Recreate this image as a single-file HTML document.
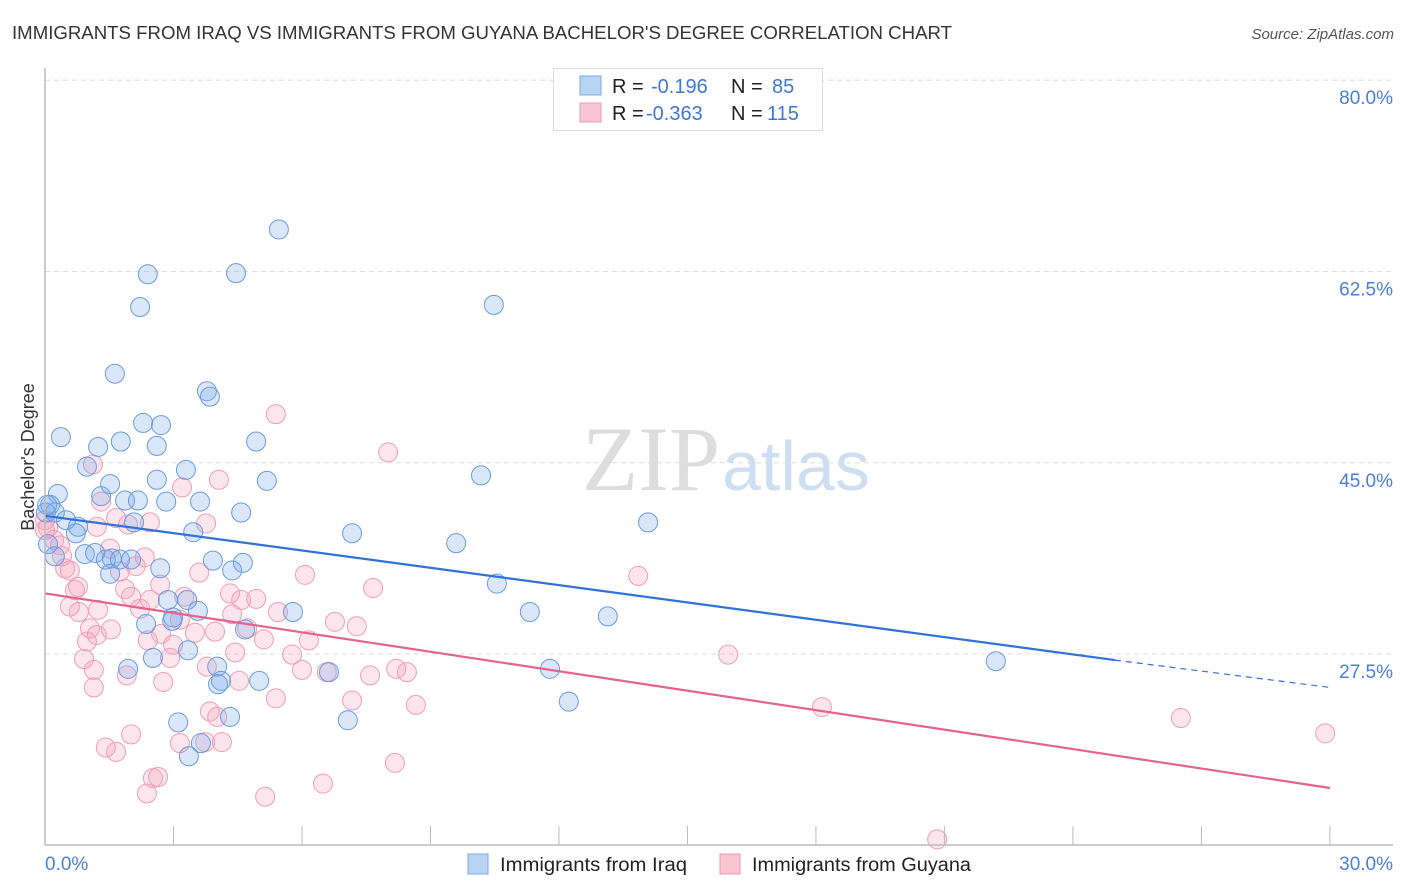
<!DOCTYPE html>
<html><head><meta charset="utf-8"><style>
body{margin:0;background:#fff;font-family:"Liberation Sans",sans-serif}
svg{display:block}
</style></head><body>
<svg id="chart" width="1406" height="892">
<text x="12" y="39" font-size="18" fill="#333" textLength="940" lengthAdjust="spacingAndGlyphs">IMMIGRANTS FROM IRAQ VS IMMIGRANTS FROM GUYANA BACHELOR'S DEGREE CORRELATION CHART</text>
<text x="1394" y="39" font-size="15" fill="#555" font-style="italic" text-anchor="end">Source: ZipAtlas.com</text>
<g id="grid"></g>
<text x="720" y="490" font-size="92" font-family="Liberation Serif" fill="#ddd" text-anchor="end">ZIP</text>
<text x="722" y="490" font-size="70" fill="#cfdff2">atlas</text>
<g id="pts"></g>
<g id="trends"></g>
<line x1="45" y1="68" x2="45" y2="845" stroke="#bbb" stroke-width="1.5"/>
<line x1="45" y1="845" x2="1393" y2="845" stroke="#bbb" stroke-width="1.5"/>
<g id="xticks"></g>
<text x="45" y="870" font-size="19" fill="#4a7fd4">0.0%</text>
<text x="1393" y="870" font-size="19" fill="#4a7fd4" text-anchor="end">30.0%</text>
<text transform="translate(34,457) rotate(-90)" font-size="18" fill="#333" text-anchor="middle">Bachelor's Degree</text>
<g>
<rect x="553.5" y="68.5" width="269" height="62" fill="#fff" stroke="#ddd"/>
<rect x="580" y="76" width="21" height="19" fill="#b9d3f5" stroke="#7fa8e0"/>
<rect x="580" y="103" width="21" height="19" fill="#f9c5d4" stroke="#eb9ab3"/>
<text y="93" font-size="20"><tspan x="612" fill="#222">R = </tspan><tspan x="651" fill="#3f78d4">-0.196</tspan><tspan x="731" fill="#222">N = </tspan><tspan x="772" fill="#3f78d4">85</tspan></text>
<text y="120" font-size="20"><tspan x="612" fill="#222">R = </tspan><tspan x="646" fill="#3f78d4">-0.363</tspan><tspan x="731" fill="#222">N = </tspan><tspan x="767" fill="#3f78d4">115</tspan></text>
</g>
<g>
<rect x="468" y="854" width="20" height="20" fill="#b9d3f5" stroke="#7fa8e0"/>
<text x="500" y="871" font-size="19" fill="#222" textLength="187" lengthAdjust="spacingAndGlyphs">Immigrants from Iraq</text>
<rect x="720" y="854" width="20" height="20" fill="#f9c5d4" stroke="#eb9ab3"/>
<text x="752" y="871" font-size="19" fill="#222" textLength="219" lengthAdjust="spacingAndGlyphs">Immigrants from Guyana</text>
</g>
</svg>
<script>
const yTicks=[80,62.5,45,27.5];
const yTickLabels=["80.0%","62.5%","45.0%","27.5%"];
const xTicks=[0,3,6,9,12,15,18,21,24,27,30];
const iraqX=[5.46,2.40,4.46,2.22,10.48,1.63,3.78,3.85,2.29,2.71,0.37,4.93,1.24,1.77,2.61,0.98,3.29,2.61,5.18,10.18,1.52,1.31,0.30,1.87,2.17,2.83,3.62,0.12,0.23,4.58,14.08,0.49,2.08,0.77,7.17,3.46,0.72,9.60,0.07,0.93,1.17,0.23,1.56,1.42,1.75,2.01,3.92,4.62,4.37,1.52,2.69,10.55,2.87,3.32,5.79,11.32,3.57,13.14,2.99,2.36,2.97,4.67,2.52,3.34,4.02,6.63,11.79,22.20,1.94,4.11,5.00,12.23,4.04,3.11,7.07,4.32,3.36,3.64,0.02,0.05];
const iraqY=[67.9,63.8,63.9,60.8,61.0,54.7,53.1,52.6,50.2,50.0,48.9,48.5,48.0,48.5,48.1,46.2,45.9,45.0,44.9,45.4,44.6,43.5,43.7,43.1,43.1,43.0,43.0,42.7,42.0,42.0,41.1,41.3,41.1,40.7,40.1,40.2,40.1,39.2,39.1,38.2,38.3,38.0,37.8,37.7,37.7,37.7,37.6,37.4,36.7,36.4,36.9,35.5,34.0,34.0,32.9,32.9,33.0,32.5,32.4,31.8,32.1,31.3,28.7,29.4,27.9,27.4,27.7,28.4,27.7,26.6,26.6,24.7,26.3,22.8,23.0,23.3,19.7,20.9,42.0,42.7];
const guyX=[5.39,8.01,1.12,4.06,3.20,1.31,1.66,3.76,2.45,0.0,0.07,0.21,0.35,1.21,1.94,1.52,2.33,0.47,0.58,0.77,0.70,1.75,2.12,2.69,6.07,7.66,13.85,1.87,0.58,0.79,1.24,2.01,2.22,3.25,4.32,4.58,4.93,3.60,1.05,0.98,1.21,2.40,0.91,2.92,2.71,4.72,4.44,2.99,3.50,5.11,5.77,6.16,6.77,7.28,6.00,6.58,7.59,8.20,8.45,15.95,1.14,1.14,2.76,3.78,4.53,1.91,7.17,5.39,8.66,3.85,4.02,18.14,26.52,29.89,1.42,1.66,2.01,3.15,4.13,3.74,2.52,2.64,2.38,5.14,6.49,8.17,20.83,0.0,0.40,4.37,3.97,1.54,2.45,3.15,5.44];
const guyY=[51.0,47.5,46.4,45.0,44.3,43.0,41.5,41.0,41.1,41.3,40.6,39.5,39.0,40.7,40.9,38.7,37.9,36.9,36.7,35.2,34.9,36.6,37.1,35.4,36.3,35.1,36.2,35.0,33.4,32.9,33.1,34.3,33.2,34.3,34.6,34.0,34.1,36.5,31.4,30.2,30.8,30.3,28.6,28.7,30.9,31.4,29.2,29.9,31.0,30.4,29.0,30.3,32.0,31.6,27.6,27.4,27.1,27.7,27.4,29.0,27.6,26.0,26.5,27.9,26.6,27.1,24.8,25.0,24.4,23.8,23.3,24.2,23.2,21.8,20.5,20.1,21.7,20.9,21.0,21.0,17.7,17.8,16.3,16.0,17.2,19.1,12.1,40.4,38.0,32.7,31.1,31.3,34.0,32.2,32.9];
const iraqTrend=[[0,41.7],[24.98,28.5],[30,26.0]];
const guyTrend=[[0,34.6],[30,16.8]];
const NS="http://www.w3.org/2000/svg";
const xs=v=>45+v*42.83;
const ys=v=>971.6-v*10.93;
function mk(tag,attrs,parent){const e=document.createElementNS(NS,tag);for(const k in attrs)e.setAttribute(k,attrs[k]);parent.appendChild(e);return e;}
const grid=document.getElementById('grid');
yTicks.forEach((t,i)=>{
  const l=mk('line',{x1:45,x2:1393,y1:ys(t)-17,y2:ys(t)-17,stroke:'#ddd','stroke-dasharray':'5,4'},grid);
  
  
  const tx=mk('text',{x:1393,y:ys(t)+7,'font-size':19,fill:'#4a7fd4','text-anchor':'end'},grid);
  tx.textContent=yTickLabels[i];
  
  
});
const xt=document.getElementById('xticks');
xTicks.forEach(t=>{
  const l=mk('line',{x1:xs(t),x2:xs(t),y1:826,y2:845,stroke:'#bbb'},xt);
  
  
});
const pts=document.getElementById('pts');
guyX.forEach((x,i)=>{
  const c=mk('circle',{cx:xs(x),cy:ys(guyY[i]),r:9.5,fill:'rgba(244,160,186,0.28)',stroke:'#ef9db6','stroke-width':1},pts);
  
  
});
iraqX.forEach((x,i)=>{
  const c=mk('circle',{cx:xs(x),cy:ys(iraqY[i]),r:9.5,fill:'rgba(120,170,235,0.28)',stroke:'#6a9be0','stroke-width':1},pts);
  
  
});
const tr=document.getElementById('trends');
const b1=mk('line',{x1:xs(iraqTrend[0][0]),y1:ys(iraqTrend[0][1]),x2:xs(iraqTrend[1][0]),y2:ys(iraqTrend[1][1]),stroke:'#2f72d8','stroke-width':2.2},tr);


const b2=mk('line',{x1:xs(iraqTrend[1][0]),y1:ys(iraqTrend[1][1]),x2:xs(iraqTrend[2][0]),y2:ys(iraqTrend[2][1]),stroke:'#2f72d8','stroke-width':1.2,'stroke-dasharray':'6,5'},tr);


const p1=mk('line',{x1:xs(guyTrend[0][0]),y1:ys(guyTrend[0][1]),x2:xs(guyTrend[1][0]),y2:ys(guyTrend[1][1]),stroke:'#e5628f','stroke-width':2.2},tr);


</script>
</body></html>
